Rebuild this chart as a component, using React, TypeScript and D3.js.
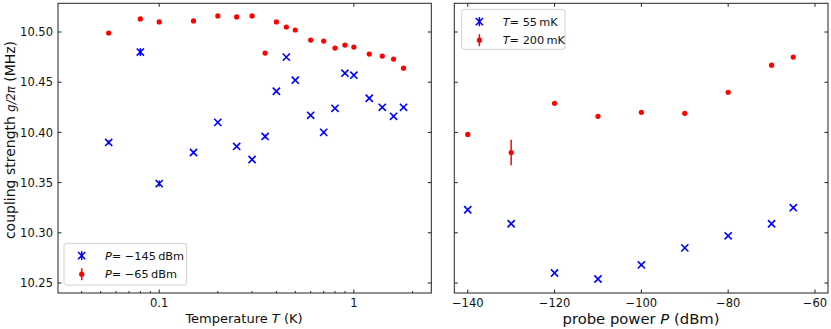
import * as d3 from 'd3';

// left panel: coupling vs temperature
const temps = [0.055, 0.08, 0.1, 0.15, 0.2, 0.25, 0.3, 0.35, 0.4, 0.45, 0.5, 0.6, 0.7, 0.8, 0.9, 1.0, 1.2, 1.4, 1.6, 1.8];
const gLowPower = [10.390, 10.480, 10.349, 10.380, 10.410, 10.386, 10.373, 10.396, 10.441, 10.475, 10.452, 10.417, 10.400, 10.424, 10.459, 10.457, 10.434, 10.425, 10.416, 10.425];
const errLowPower = [0.002, 0.004, 0.003, 0.001, 0.001, 0.001, 0.001, 0.002, 0.001, 0.001, 0.001, 0.001, 0.001, 0.001, 0.001, 0.001, 0.001, 0.001, 0.001, 0.001];
const gHighPower = [10.499, 10.513, 10.510, 10.511, 10.516, 10.515, 10.516, 10.479, 10.510, 10.505, 10.502, 10.492, 10.491, 10.484, 10.487, 10.485, 10.478, 10.476, 10.473, 10.464];
const errHighPower = [0.001, 0.001, 0.001, 0.001, 0.001, 0.001, 0.001, 0.001, 0.001, 0.001, 0.001, 0.001, 0.001, 0.001, 0.001, 0.001, 0.001, 0.001, 0.001, 0.001];

// right panel: coupling vs probe power
const powers = [-140, -130, -120, -110, -100, -90, -80, -70, -65];
const g55mK = [10.323, 10.309, 10.260, 10.254, 10.268, 10.285, 10.297, 10.309, 10.325];
const err55mK = [0.001, 0.001, 0.001, 0.001, 0.001, 0.001, 0.001, 0.001, 0.001];
const g200mK = [10.398, 10.380, 10.429, 10.416, 10.420, 10.419, 10.440, 10.467, 10.475];
const err200mK = [0.001, 0.0126, 0.001, 0.001, 0.001, 0.001, 0.001, 0.001, 0.001];

const yTicks = [10.25, 10.30, 10.35, 10.40, 10.45, 10.50];
const tTickLabels = ['0.1', '1'];
const pTicks = [-140, -120, -100, -80, -60];

const W = 831;
const H = 329;
const FONT = 'DejaVu Sans, sans-serif';
const BLUE = '#0000ff';
const RED = '#ff0000';

const top = 3.3;
const bottom = 293;

const y = d3.scaleLinear().domain([10.24004, 10.52859]).range([bottom, top]);
const xT = d3.scaleLog().domain([0.0302, 2.5]).range([58, 431.3]);
const xP = d3.scaleLinear().domain([-143.1, -57]).range([454.3, 828]);

const Cross = ({ cx, cy }: { cx: number; cy: number }) => {
  const s = 3.6;
  return (
    <path d={`M${cx - s},${cy - s}L${cx + s},${cy + s}M${cx - s},${cy + s}L${cx + s},${cy - s}`}
      stroke={BLUE} strokeWidth={1.6} fill="none" />
  );
};

const Dot = ({ cx, cy }: { cx: number; cy: number }) => (
  <circle cx={cx} cy={cy} r={2.6} fill={RED} />
);

const ErrBar = ({ x, y0, y1, color }: { x: number; y0: number; y1: number; color: string }) => (
  <line x1={x} x2={x} y1={y0} y2={y1} stroke={color} strokeWidth={1.5} />
);

const Frame = ({ x0, x1 }: { x0: number; x1: number }) => (
  <rect x={x0} y={top} width={x1 - x0} height={bottom - top} fill="none" stroke="#222" strokeWidth={1} />
);

const Legend = ({ x, y: ly, w, h, labels }: { x: number; y: number; w: number; h: number; labels: [string, string][] }) => (
  <g>
    <rect x={x} y={ly} width={w} height={h} rx={2.5} fill="white" fillOpacity={0.8} stroke="#d0d0d0" strokeWidth={1} />
    {labels.map(([sym, rest], i) => {
      const cy = ly + 12.3 + i * 18.6;
      const mx = x + 17.7;
      return (
        <g key={i}>
          {i === 0 ? (
            <>
              <line x1={mx} x2={mx} y1={cy - 4.5} y2={cy + 4.5} stroke={BLUE} strokeWidth={1.5} />
              <Cross cx={mx} cy={cy} />
            </>
          ) : (
            <>
              <line x1={mx} x2={mx} y1={cy - 6} y2={cy + 6} stroke={RED} strokeWidth={1.5} />
              <Dot cx={mx} cy={cy} />
            </>
          )}
          <text x={x + 41} y={cy + 4} fontFamily={FONT} fontSize={11.3} fill="#111">
            <tspan fontStyle="italic">{sym}</tspan>
            <tspan>{rest}</tspan>
          </text>
        </g>
      );
    })}
  </g>
);

export default function App() {
  const minorT = [0.04, 0.05, 0.06, 0.07, 0.08, 0.09, 0.2, 0.3, 0.4, 0.5, 0.6, 0.7, 0.8, 0.9, 2];
  const majorT = [0.1, 1];
  return (
    <svg width={W} height={H} style={{ position: 'absolute', left: 0, top: 0, background: 'white' }}>
      {/* ---------- left panel ---------- */}
      <Frame x0={58} x1={431.3} />
      {yTicks.map(v => (
        <g key={v}>
          <line x1={58} x2={61.5} y1={y(v)} y2={y(v)} stroke="#222" />
          <line x1={431.3} x2={427.8} y1={y(v)} y2={y(v)} stroke="#222" />
          <text x={53} y={y(v) + 4.2} textAnchor="end" fontFamily={FONT} fontSize={11.5} fill="#111">{v.toFixed(2)}</text>
        </g>
      ))}
      {majorT.map((v, i) => (
        <g key={v}>
          <line x1={xT(v)} x2={xT(v)} y1={bottom} y2={bottom - 3.5} stroke="#222" />
          <line x1={xT(v)} x2={xT(v)} y1={top} y2={top + 3.5} stroke="#222" />
          <text x={xT(v)} y={306.5} textAnchor="middle" fontFamily={FONT} fontSize={11.5} fill="#111">{tTickLabels[i]}</text>
        </g>
      ))}
      {minorT.map(v => (
        <line key={v} x1={xT(v)} x2={xT(v)} y1={bottom} y2={bottom - 2} stroke="#222" />
      ))}
      {temps.map((t, i) => (
        <g key={'l' + i}>
          <ErrBar x={xT(t)} y0={y(gLowPower[i] - errLowPower[i])} y1={y(gLowPower[i] + errLowPower[i])} color={BLUE} />
          <Cross cx={xT(t)} cy={y(gLowPower[i])} />
        </g>
      ))}
      {temps.map((t, i) => (
        <g key={'h' + i}>
          <ErrBar x={xT(t)} y0={y(gHighPower[i] - errHighPower[i])} y1={y(gHighPower[i] + errHighPower[i])} color={RED} />
          <Dot cx={xT(t)} cy={y(gHighPower[i])} />
        </g>
      ))}
      <Legend x={64} y={243.3} w={122.7} h={41.7} labels={[['P', '= −145\u2009dBm'], ['P', '= −65\u2009dBm']]} />
      <text x={244} y={323} textAnchor="middle" fontFamily={FONT} fontSize={13} fill="#111">
        Temperature <tspan fontStyle="italic">T</tspan> (K)
      </text>
      <text transform={`translate(15,140) rotate(-90)`} textAnchor="middle" fontFamily={FONT} fontSize={14} fill="#111">
        coupling strength <tspan fontStyle="italic" fontSize={11.5}>g/2π</tspan> (MHz)
      </text>

      {/* ---------- right panel ---------- */}
      <Frame x0={454.3} x1={828} />
      {yTicks.map(v => (
        <g key={'r' + v}>
          <line x1={454.3} x2={457.8} y1={y(v)} y2={y(v)} stroke="#222" />
          <line x1={828} x2={824.5} y1={y(v)} y2={y(v)} stroke="#222" />
        </g>
      ))}
      {pTicks.map(v => (
        <g key={'p' + v}>
          <line x1={xP(v)} x2={xP(v)} y1={bottom} y2={bottom - 3.5} stroke="#222" />
          <line x1={xP(v)} x2={xP(v)} y1={top} y2={top + 3.5} stroke="#222" />
          <text x={xP(v)} y={306.5} textAnchor="middle" fontFamily={FONT} fontSize={11.5} fill="#111">{v < 0 ? '−' + Math.abs(v) : v}</text>
        </g>
      ))}
      {powers.map((p, i) => (
        <g key={'b' + i}>
          <ErrBar x={xP(p)} y0={y(g55mK[i] - err55mK[i])} y1={y(g55mK[i] + err55mK[i])} color={BLUE} />
          <Cross cx={xP(p)} cy={y(g55mK[i])} />
        </g>
      ))}
      {powers.map((p, i) => (
        <g key={'r' + i}>
          <ErrBar x={xP(p)} y0={y(g200mK[i] - err200mK[i])} y1={y(g200mK[i] + err200mK[i])} color={RED} />
          <Dot cx={xP(p)} cy={y(g200mK[i])} />
        </g>
      ))}
      <Legend x={461.7} y={9.3} w={103.3} h={40} labels={[['T', '= 55\u2009mK'], ['T', '= 200\u2009mK']]} />
      <text x={641} y={324} textAnchor="middle" fontFamily={FONT} fontSize={14.8} fill="#111">
        probe power <tspan fontStyle="italic">P</tspan> (dBm)
      </text>
    </svg>
  );
}
